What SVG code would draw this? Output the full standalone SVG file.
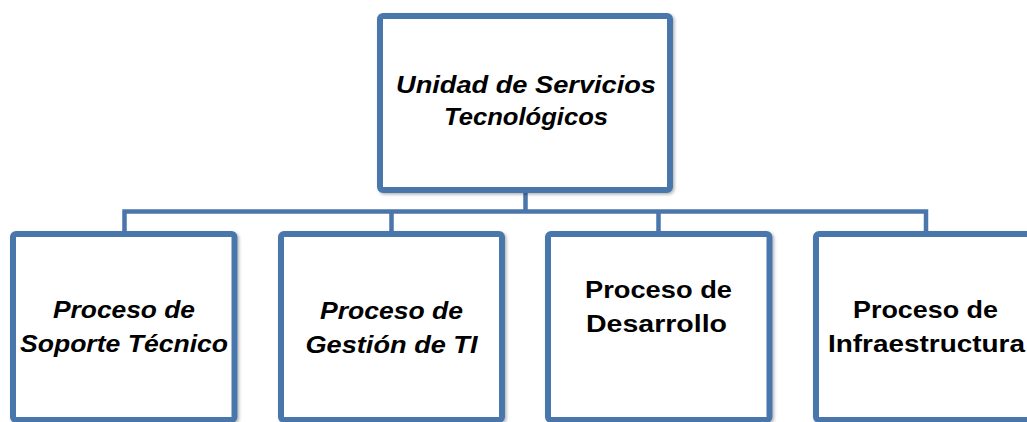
<svg xmlns="http://www.w3.org/2000/svg" width="1027" height="422" viewBox="0 0 1027 422">
<style>
.box{fill:#ffffff;stroke:#4a76ab;stroke-width:6;filter:url(#sh)}
.con{fill:none;stroke:#4a76ab;stroke-width:4.5}
.t{font-family:"Liberation Sans",Arial,sans-serif;font-weight:bold;font-size:24px;fill:#000;text-anchor:middle}
.i{font-style:italic}
</style>
<defs>
<filter id="sh" x="-10%" y="-10%" width="120%" height="120%">
<feDropShadow dx="1.5" dy="1.5" stdDeviation="1.5" flood-color="#000" flood-opacity="0.3"/>
</filter>
</defs>
<rect width="1027" height="422" fill="#ffffff"/>
<g id="connectors">
<path class="con" d="M525.5 190 V211.5 M124.5 234 V211.5 H926 V234 M391.5 211.5 V234 M658.5 211.5 V234"/>
</g>
<g id="top">
<rect class="box" x="380" y="16" width="290" height="174" rx="3"/>
<text class="t i" x="526" y="93" textLength="260" lengthAdjust="spacingAndGlyphs">Unidad de Servicios</text>
<text class="t i" x="526" y="125" textLength="164" lengthAdjust="spacingAndGlyphs">Tecnológicos</text>
</g>
<g id="soporte">
<rect class="box" x="13" y="234" width="221.5" height="186" rx="3"/>
<text class="t i" x="124" y="318" textLength="142" lengthAdjust="spacingAndGlyphs">Proceso de</text>
<text class="t i" x="124" y="352" textLength="208" lengthAdjust="spacingAndGlyphs">Soporte Técnico</text>
</g>
<g id="gestion">
<rect class="box" x="281" y="234" width="221" height="186" rx="3"/>
<text class="t i" x="391.5" y="319" textLength="143" lengthAdjust="spacingAndGlyphs">Proceso de</text>
<text class="t i" x="391.5" y="353" textLength="172" lengthAdjust="spacingAndGlyphs">Gestión de TI</text>
</g>
<g id="desarrollo">
<rect class="box" x="548" y="234" width="221.5" height="186" rx="3"/>
<text class="t" x="658.5" y="298" textLength="147" lengthAdjust="spacingAndGlyphs">Proceso de</text>
<text class="t" x="656.5" y="332" textLength="141" lengthAdjust="spacingAndGlyphs">Desarrollo</text>
</g>
<g id="infraestructura">
<rect class="box" x="816" y="234" width="221.5" height="186" rx="3"/>
<text class="t" x="925.5" y="318" textLength="145" lengthAdjust="spacingAndGlyphs">Proceso de</text>
<text class="t" x="926.5" y="352" textLength="197" lengthAdjust="spacingAndGlyphs">Infraestructura</text>
</g>
</svg>
